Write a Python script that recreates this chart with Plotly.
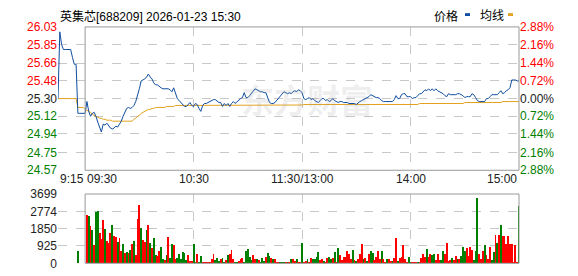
import plotly.graph_objects as go

# ---------------- data ----------------
prev_close = 25.30

# call auction 9:15 - 9:29 (one value per minute)
pre_price = [25.30, 25.98, 25.85, 25.80, 25.80, 25.80, 25.80, 25.80, 25.72, 25.65,
             25.65, 25.15, 25.15, 25.15, 25.15]
pre_avg = [25.30, 25.30, 25.30, 25.30, 25.30, 25.30, 25.30, 25.30, 25.30, 25.30,
           25.30, 25.21, 25.21, 25.21, 25.21]
pre_vol = [0, 0, 0, 0, 0, 0, 0, 0, 0, 0, 0, 645, 0, 0, 0]
pre_dir = ["G"] * 15

# continuous session 9:30 - 11:30, 13:01 - 15:00 (one value per minute)
sess_price = [
    25.15, 25.27, 25.17, 25.12, 25.15, 25.16, 25.12, 25.06, 25.01, 24.96,
    25.04, 25.03, 25.05, 25.02, 25.00, 24.99, 25.00, 25.02, 25.01, 25.04,
    25.07, 25.12, 25.17, 25.20, 25.21, 25.20, 25.21, 25.23, 25.27, 25.33,
    25.40, 25.48, 25.49, 25.50, 25.52, 25.55, 25.52, 25.50, 25.46, 25.44,
    25.44, 25.42, 25.41, 25.40, 25.40, 25.40, 25.40, 25.39, 25.37, 25.41,
    25.35, 25.30, 25.28, 25.26, 25.24, 25.22, 25.22, 25.24, 25.26, 25.23,
    25.22, 25.25, 25.24, 25.20, 25.17, 25.23, 25.25, 25.25, 25.26, 25.27,
    25.28, 25.29, 25.29, 25.27, 25.26, 25.26, 25.22, 25.25, 25.23, 25.25,
    25.22, 25.25, 25.27, 25.25, 25.27, 25.29, 25.30, 25.31, 25.36, 25.31,
    25.31, 25.33, 25.35, 25.38, 25.40, 25.39, 25.38, 25.37, 25.37, 25.36,
    25.36, 25.30, 25.26, 25.25, 25.25, 25.26, 25.28, 25.30, 25.33, 25.35,
    25.37, 25.36, 25.35, 25.36, 25.35, 25.37, 25.38, 25.37, 25.39, 25.38,
    25.36, 25.30, 25.29, 25.30, 25.31, 25.29, 25.30, 25.28, 25.27, 25.26,
    25.28, 25.30, 25.30, 25.28, 25.29, 25.27, 25.28, 25.30, 25.28, 25.27,
    25.26, 25.27, 25.27, 25.26, 25.26, 25.26, 25.25, 25.25, 25.25, 25.25,
    25.24, 25.26, 25.27, 25.28, 25.29, 25.30, 25.31, 25.32, 25.34, 25.33,
    25.32, 25.31, 25.31, 25.30, 25.28, 25.27, 25.27, 25.27, 25.27, 25.27,
    25.27, 25.29, 25.33, 25.30, 25.30, 25.34, 25.35, 25.35, 25.32, 25.32,
    25.32, 25.30, 25.31, 25.31, 25.33, 25.35, 25.35, 25.37, 25.39, 25.38,
    25.40, 25.38, 25.40, 25.38, 25.40, 25.38, 25.37, 25.36, 25.35, 25.33,
    25.32, 25.35, 25.34, 25.34, 25.34, 25.34, 25.35, 25.35, 25.34, 25.33,
    25.31, 25.32, 25.32, 25.32, 25.35, 25.34, 25.31, 25.28, 25.27, 25.27,
    25.27, 25.27, 25.30, 25.30, 25.32, 25.34, 25.34, 25.34, 25.34, 25.36,
    25.38, 25.35, 25.36, 25.38, 25.39, 25.41, 25.49, 25.49, 25.49, 25.48,
    25.48,
]

sess_avg = (
    [25.19, 25.18, 25.17, 25.16, 25.14, 25.13, 25.12, 25.11, 25.10, 25.10,
     25.09, 25.09, 25.08, 25.08, 25.08, 25.07, 25.07, 25.07, 25.07, 25.07,
     25.07, 25.07, 25.07, 25.07, 25.07, 25.07, 25.07, 25.09, 25.10, 25.12,
     25.13, 25.15, 25.16, 25.17, 25.18, 25.19, 25.19, 25.20, 25.20, 25.21,
     25.21, 25.21, 25.21, 25.21, 25.21, 25.22, 25.22, 25.22, 25.22, 25.22]
    + [25.23] * 44
    + [25.235] * 27
    + [25.24] * 64
    + [25.25] * 25
    + [25.26] * 21
    + [25.27] * 10
)

sess_vol = [
    0, 2580, 2545, 1985, 1782, 984, 2715, 2800, 1612, 1300,
    2290, 1833, 1188, 1086, 1612, 2036, 1442, 1391, 1137, 1357,
    645, 1018, 543, 600, 543, 713, 1018, 1188, 424, 2376,
    3105, 1900, 1222, 1154, 1765, 2036, 1086, 815, 1357, 424,
    400, 679, 849, 204, 170, 424, 1391, 305, 1018, 984,
    255, 300, 475, 255, 594, 543, 170, 424, 136, 136,
    1018, 68, 475, 51, 373, 68, 51, 51, 51, 68,
    255, 509, 170, 288, 100, 255, 305, 85, 170, 424,
    509, 713, 204, 34, 34, 100, 255, 305, 34, 645,
    764, 339, 170, 424, 255, 204, 170, 34, 305, 100,
    339, 543, 373, 305, 255, 204, 51, 51, 34, 85,
    51, 51, 51, 51, 204, 255, 102, 204, 68, 85,
    1103, 34, 100, 255, 68, 288, 204, 204, 339, 594,
    170, 238, 100, 68, 288, 339, 204, 272, 594, 34,
    815, 458, 150, 339, 339, 645, 475, 255, 713, 170,
    100, 204, 475, 1052, 204, 272, 136, 509, 645, 543,
    150, 339, 679, 255, 645, 204, 68, 204, 204, 136,
    100, 305, 1324, 136, 272, 339, 967, 255, 68, 339,
    51, 51, 51, 68, 51, 68, 305, 509, 339, 764,
    339, 475, 424, 475, 150, 509, 170, 170, 645, 509,
    1103, 102, 170, 288, 150, 390, 255, 204, 373, 849,
    679, 815, 373, 882, 713, 200, 645, 3479, 509, 255,
    679, 984, 424, 255, 882, 200, 594, 1527, 1103, 1527,
    2036, 1442, 1442, 1018, 1442, 1018, 1018, 34, 984, 34,
    3054,
]

sess_dir = list(
    "RRGRGRGGRR" "RGRRRGRRGR" "RGRGRGRGRR" "RGRRGRGRGG" "RRGGRGRGGR"
    "RGGGGGGRRR" "GGRGGRRRRR" "RRGGGRGGRG" "RRRGGRRRGG" "GGGRRGRGGG"
    "RGGRGRRRGG" "GRGRGRRGRR" "GRRGRRGGGG" "RRGRRGGRGR" "GRRRRRRRGR"
    "GRRRGRGRGG" "RRRRGRRGRR" "GRRGRRRRRG" "GRRRGRRRRG" "RRGGRRRGGR"
    "RRRGRRGRGG" "GRRRRGGGRR" "RGRRRGGRGR" "GRRRRRRRRR" "G"
)

price_ticks = [26.03, 25.85, 25.66, 25.48, 25.30, 25.12, 24.94, 24.75, 24.57]
pct_labels = ["2.88%", "2.16%", "1.44%", "0.72%", "0.00%", "0.72%", "1.44%", "2.16%", "2.88%"]
vol_ticks = [3699, 2774, 1850, 925, 0]
time_labels = ["9:15", "09:30", "10:30", "11:30/13:00", "14:00", "15:00"]
time_label_minutes = [0, 15, 75, 135, 195, 255]
grid_minutes = [75, 135, 195]

title_text = "英集芯[688209] 2026-01-23 15:30"
legend_names = ["价格", "均线"]
watermark = "东方财富"

# ---------------- styling ----------------
W, H = 578, 276
BLUE = "#0f4ea0"
ORANGE = "#e3a21f"
RED = "#ff0000"
GREEN = "#008000"
DARK = "#222222"
GRID = "#c8c8c8"
FRAME = "#999999"
FONT = "Liberation Sans, Arial, Noto Sans CJK SC, sans-serif"

xd = [58 / W, 519 / W]
y_main = [1 - 172 / H, 1 - 21 / H]
y_vol = [1 - 270 / H, 1 - 197 / H]

price = pre_price + sess_price
avg = pre_avg + sess_avg
vol = pre_vol + sess_vol
dirs = pre_dir + sess_dir
minutes = list(range(len(price)))
n_last = minutes[-1]


def color_for(v, ref):
    if v > ref + 1e-9:
        return RED
    if v < ref - 1e-9:
        return GREEN
    return DARK


price_ticktext = [f'<span style="color:{color_for(v, prev_close)}">{v:.2f}</span>' for v in price_ticks]
pct_ticktext = [f'<span style="color:{color_for(v, prev_close)}">{t}</span>' for v, t in zip(price_ticks, pct_labels)]

fig = go.Figure()
fig.add_trace(go.Scatter(x=minutes, y=avg, mode="lines", line=dict(color=ORANGE, width=1),
                         xaxis="x", yaxis="y", hoverinfo="skip"))
fig.add_trace(go.Scatter(x=minutes, y=price, mode="lines", line=dict(color=BLUE, width=1),
                         xaxis="x", yaxis="y", hoverinfo="skip"))
# invisible trace to activate right axis
fig.add_trace(go.Scatter(x=[minutes[0]], y=[prev_close], mode="markers", marker=dict(opacity=0),
                         xaxis="x", yaxis="y2", hoverinfo="skip"))
fig.add_trace(go.Bar(x=minutes, y=vol, marker=dict(color=[RED if d == "R" else GREEN for d in dirs],
                     line=dict(width=0)), width=0.5, xaxis="x2", yaxis="y3", hoverinfo="skip"))

common_x = dict(domain=xd, range=[0, n_last], showticklabels=False, tickvals=grid_minutes,
                showgrid=True, gridcolor=GRID, griddash="dash", gridwidth=1, zeroline=False,
                showline=False, ticks="", fixedrange=True)
fig.update_layout(
    width=W, height=H, margin=dict(l=0, r=0, t=0, b=0),
    paper_bgcolor="white", plot_bgcolor="white", showlegend=False,
    font=dict(family=FONT, size=12, color=DARK),
    xaxis=dict(anchor="y", **common_x),
    xaxis2=dict(anchor="y3", **common_x),
    yaxis=dict(domain=y_main, range=[price_ticks[-1], price_ticks[0]], tickvals=price_ticks,
               ticktext=price_ticktext, showgrid=True, gridcolor=GRID, griddash="dash",
               zeroline=False, showline=False, ticks="", anchor="x"),
    yaxis2=dict(domain=y_main, range=[price_ticks[-1], price_ticks[0]], tickvals=price_ticks,
                ticktext=pct_ticktext, overlaying="y", side="right", showgrid=False,
                zeroline=False, showline=False, ticks="", anchor="x"),
    yaxis3=dict(domain=y_vol, range=[0, vol_ticks[0]], tickvals=vol_ticks,
                ticktext=[str(v) for v in vol_ticks], showgrid=True, gridcolor=GRID,
                griddash="dash", zeroline=False, showline=False, ticks="", anchor="x2"),
    bargap=0,
)


def xp(m):
    return xd[0] + (xd[1] - xd[0]) * m / n_last


# frames around the continuous session part
for yd in (y_main, y_vol):
    fig.add_shape(type="rect", xref="paper", yref="paper", x0=xp(15), x1=xp(n_last),
                  y0=yd[0], y1=yd[1], line=dict(color=FRAME, width=1), fillcolor="rgba(0,0,0,0)")

# time labels
anchors = ["left", "left", "center", "center", "center", "right"]
for lab, m, a in zip(time_labels, time_label_minutes, anchors):
    fig.add_annotation(text=lab, x=m, xref="x", y=1 - 181 / H, yref="paper", xanchor=a,
                       yanchor="middle", showarrow=False, font=dict(size=12, color=DARK))

# title
fig.add_annotation(text=title_text, x=58 / W, y=1 - 10 / H, xref="paper", yref="paper",
                   xanchor="left", yanchor="middle", showarrow=False, font=dict(size=12, color="#000"))

# legend
fig.add_annotation(text=legend_names[0], x=432 / W, y=1 - 10 / H, xref="paper", yref="paper",
                   xanchor="left", yanchor="middle", showarrow=False, font=dict(size=12, color="#000"))
fig.add_annotation(text=legend_names[1], x=478 / W, y=1 - 10 / H, xref="paper", yref="paper",
                   xanchor="left", yanchor="middle", showarrow=False, font=dict(size=12, color="#000"))
for x0, col in ((465, BLUE), (508, ORANGE)):
    fig.add_shape(type="rect", xref="paper", yref="paper", x0=x0 / W, x1=(x0 + 5) / W,
                  y0=1 - 9.5 / H, y1=1 - 6.5 / H, line=dict(width=0), fillcolor=col)

# watermark
fig.add_annotation(text=f"<b>{watermark}</b>", x=307 / W, y=1 - 97 / H, xref="paper", yref="paper",
                   xanchor="center", yanchor="middle", showarrow=False,
                   font=dict(size=33, color="rgba(150,150,150,0.16)",
                             family="Noto Sans CJK SC, sans-serif"))

fig.write_html("out.html")
